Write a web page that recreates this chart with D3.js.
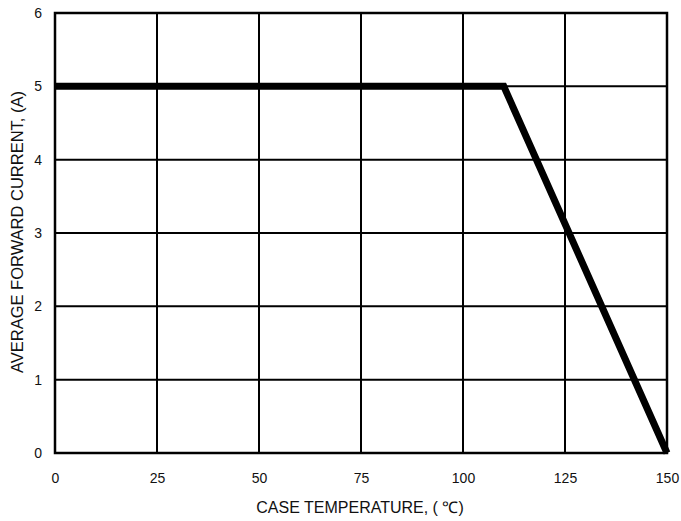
<!DOCTYPE html>
<html><head><meta charset="utf-8">
<script src="https://cdn.jsdelivr.net/npm/d3@7"></script>
<style>body{margin:0;background:#fff}text{font-family:"Liberation Sans",Arial,sans-serif;}</style>
</head><body>
<svg id="c" width="681" height="521"></svg>
<script>
const xTicks = [0, 25, 50, 75, 100, 125, 150];
const yTicks = [0, 1, 2, 3, 4, 5, 6];
const temps = [0, 110, 150];
const currents = [5, 5, 0];
const xTitle = "CASE TEMPERATURE, ( ℃)";
const yTitle = "AVERAGE FORWARD CURRENT, (A)";

const svg = d3.select("#c");
const L = 55, R = 667, T = 13, B = 453;
const x = d3.scaleLinear().domain([0, 150]).range([L, R]);
const y = d3.scaleLinear().domain([0, 6]).range([B, T]);

const g = svg.append("g");
g.selectAll("line.v").data(xTicks).enter().append("line")
  .attr("x1", d => x(d)).attr("x2", d => x(d)).attr("y1", T).attr("y2", B)
  .attr("stroke", "#000").attr("stroke-width", 2);
g.selectAll("line.h").data(yTicks).enter().append("line")
  .attr("y1", d => y(d)).attr("y2", d => y(d)).attr("x1", L).attr("x2", R)
  .attr("stroke", "#000").attr("stroke-width", 2);
g.append("rect").attr("x", L).attr("y", T).attr("width", R - L).attr("height", B - T)
  .attr("fill", "none").attr("stroke", "#000").attr("stroke-width", 2.5);

const fmt = d3.format("d");
const xAxis = d3.axisBottom(x).tickValues(xTicks).tickFormat(fmt).tickSize(0).tickPadding(20);
svg.append("g").attr("transform", `translate(0,${B})`).call(xAxis)
  .call(s => s.select(".domain").remove())
  .selectAll("text").attr("font-size", 14).attr("fill", "#111")
  .style("font-family", '"Liberation Sans",Arial,sans-serif');
const yAxis = d3.axisLeft(y).tickValues(yTicks).tickFormat(fmt).tickSize(0).tickPadding(13);
svg.append("g").attr("transform", `translate(${L},0)`).call(yAxis)
  .call(s => s.select(".domain").remove())
  .selectAll("text").attr("font-size", 14).attr("fill", "#111")
  .style("font-family", '"Liberation Sans",Arial,sans-serif');

const line = d3.line().x((d, i) => x(temps[i])).y((d, i) => y(currents[i]));
svg.append("path").datum(temps).attr("d", line).attr("fill", "none")
  .attr("stroke", "#000").attr("stroke-width", 7).attr("stroke-linejoin", "miter");

svg.append("text").attr("x", 360).attr("y", 513).attr("text-anchor", "middle")
  .attr("font-size", 16).attr("fill", "#111").text(xTitle);
svg.append("text").attr("transform", `translate(23,232) rotate(-90)`)
  .attr("text-anchor", "middle").attr("font-size", 16.5).attr("fill", "#111").text(yTitle);
</script>
</body></html>
